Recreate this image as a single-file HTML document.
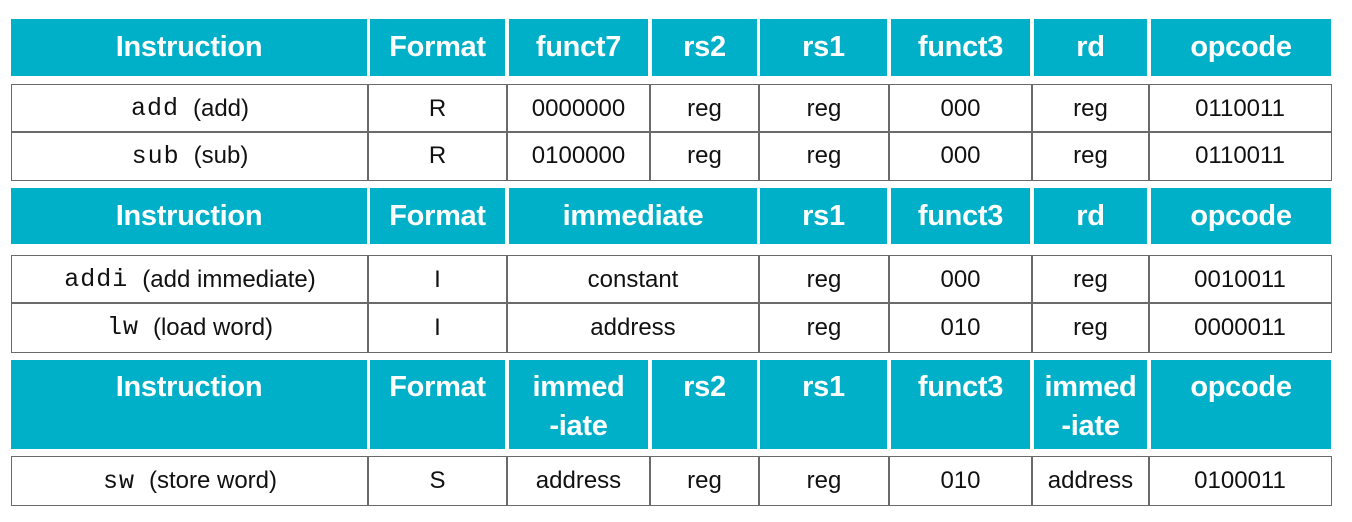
<!DOCTYPE html>
<html><head><meta charset="utf-8"><style>
body{margin:0;width:1352px;height:522px;background:#fff;position:relative;overflow:hidden;font-family:"Liberation Sans",sans-serif}
.h{position:absolute;background:#00b0c8;color:#fff;font-weight:bold;font-size:29px;text-align:center;display:flex;align-items:center;justify-content:center;line-height:39px;letter-spacing:-0.3px}
.h3{align-items:flex-start;padding-top:8px;box-sizing:border-box}
.c{position:absolute;box-sizing:border-box;border:1.5px solid #6a6a6a;font-size:24px;color:#111;display:flex;align-items:center;justify-content:center}
.m{font-family:"Liberation Mono",monospace;margin-right:14px;font-size:25px;letter-spacing:1px}
</style></head><body>
<div class="h" style="left:11px;top:19px;width:356px;height:57px">Instruction</div>
<div class="h" style="left:370px;top:19px;width:135px;height:57px">Format</div>
<div class="h" style="left:509px;top:19px;width:139px;height:57px">funct7</div>
<div class="h" style="left:652px;top:19px;width:105px;height:57px">rs2</div>
<div class="h" style="left:760px;top:19px;width:127px;height:57px">rs1</div>
<div class="h" style="left:891px;top:19px;width:139px;height:57px">funct3</div>
<div class="h" style="left:1034px;top:19px;width:113px;height:57px">rd</div>
<div class="h" style="left:1151px;top:19px;width:180px;height:57px">opcode</div>
<div class="c" style="left:11px;top:84px;width:358px;height:49px"><span class="m">add</span>(add)</div>
<div class="c" style="left:367px;top:84px;width:141px;height:49px">R</div>
<div class="c" style="left:506px;top:84px;width:145px;height:49px">0000000</div>
<div class="c" style="left:649px;top:84px;width:111px;height:49px">reg</div>
<div class="c" style="left:758px;top:84px;width:132px;height:49px">reg</div>
<div class="c" style="left:888px;top:84px;width:145px;height:49px">000</div>
<div class="c" style="left:1031px;top:84px;width:119px;height:49px">reg</div>
<div class="c" style="left:1148px;top:84px;width:184px;height:49px">0110011</div>
<div class="c" style="left:11px;top:131px;width:358px;height:50px"><span class="m">sub</span>(sub)</div>
<div class="c" style="left:367px;top:131px;width:141px;height:50px">R</div>
<div class="c" style="left:506px;top:131px;width:145px;height:50px">0100000</div>
<div class="c" style="left:649px;top:131px;width:111px;height:50px">reg</div>
<div class="c" style="left:758px;top:131px;width:132px;height:50px">reg</div>
<div class="c" style="left:888px;top:131px;width:145px;height:50px">000</div>
<div class="c" style="left:1031px;top:131px;width:119px;height:50px">reg</div>
<div class="c" style="left:1148px;top:131px;width:184px;height:50px">0110011</div>
<div class="h" style="left:11px;top:188px;width:356px;height:56px">Instruction</div>
<div class="h" style="left:370px;top:188px;width:135px;height:56px">Format</div>
<div class="h" style="left:509px;top:188px;width:248px;height:56px">immediate</div>
<div class="h" style="left:760px;top:188px;width:127px;height:56px">rs1</div>
<div class="h" style="left:891px;top:188px;width:139px;height:56px">funct3</div>
<div class="h" style="left:1034px;top:188px;width:113px;height:56px">rd</div>
<div class="h" style="left:1151px;top:188px;width:180px;height:56px">opcode</div>
<div class="c" style="left:11px;top:255px;width:358px;height:49px"><span class="m">addi</span>(add immediate)</div>
<div class="c" style="left:367px;top:255px;width:141px;height:49px">I</div>
<div class="c" style="left:506px;top:255px;width:254px;height:49px">constant</div>
<div class="c" style="left:758px;top:255px;width:132px;height:49px">reg</div>
<div class="c" style="left:888px;top:255px;width:145px;height:49px">000</div>
<div class="c" style="left:1031px;top:255px;width:119px;height:49px">reg</div>
<div class="c" style="left:1148px;top:255px;width:184px;height:49px">0010011</div>
<div class="c" style="left:11px;top:302px;width:358px;height:51px"><span class="m">lw</span>(load word)</div>
<div class="c" style="left:367px;top:302px;width:141px;height:51px">I</div>
<div class="c" style="left:506px;top:302px;width:254px;height:51px">address</div>
<div class="c" style="left:758px;top:302px;width:132px;height:51px">reg</div>
<div class="c" style="left:888px;top:302px;width:145px;height:51px">010</div>
<div class="c" style="left:1031px;top:302px;width:119px;height:51px">reg</div>
<div class="c" style="left:1148px;top:302px;width:184px;height:51px">0000011</div>
<div class="h h3" style="left:11px;top:360px;width:356px;height:89px">Instruction</div>
<div class="h h3" style="left:370px;top:360px;width:135px;height:89px">Format</div>
<div class="h h3" style="left:509px;top:360px;width:139px;height:89px">immed<br>-iate</div>
<div class="h h3" style="left:652px;top:360px;width:105px;height:89px">rs2</div>
<div class="h h3" style="left:760px;top:360px;width:127px;height:89px">rs1</div>
<div class="h h3" style="left:891px;top:360px;width:139px;height:89px">funct3</div>
<div class="h h3" style="left:1034px;top:360px;width:113px;height:89px">immed<br>-iate</div>
<div class="h h3" style="left:1151px;top:360px;width:180px;height:89px">opcode</div>
<div class="c" style="left:11px;top:456px;width:358px;height:50px"><span class="m">sw</span>(store word)</div>
<div class="c" style="left:367px;top:456px;width:141px;height:50px">S</div>
<div class="c" style="left:506px;top:456px;width:145px;height:50px">address</div>
<div class="c" style="left:649px;top:456px;width:111px;height:50px">reg</div>
<div class="c" style="left:758px;top:456px;width:132px;height:50px">reg</div>
<div class="c" style="left:888px;top:456px;width:145px;height:50px">010</div>
<div class="c" style="left:1031px;top:456px;width:119px;height:50px">address</div>
<div class="c" style="left:1148px;top:456px;width:184px;height:50px">0100011</div>
</body></html>
